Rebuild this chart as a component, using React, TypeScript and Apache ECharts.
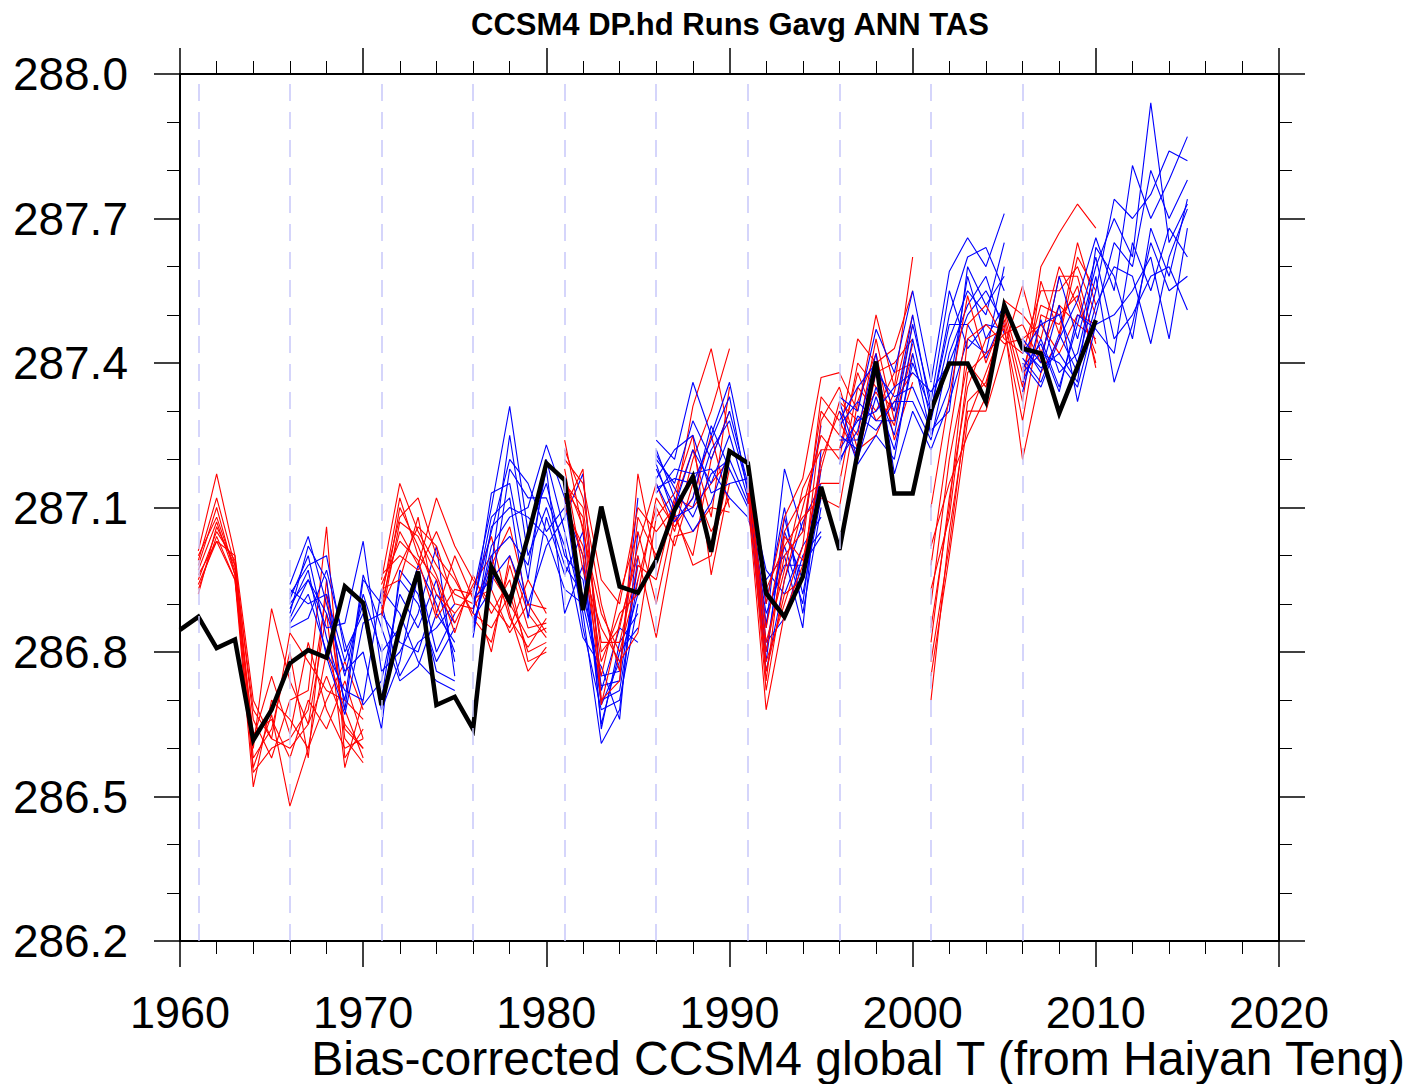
import React, { useEffect, useRef } from "react";
import * as echarts from "echarts";

const xTickLabels = ["1960", "1970", "1980", "1990", "2000", "2010", "2020"];
const yTickLabels = ["286.2", "286.5", "286.8", "287.1", "287.4", "287.7", "288.0"];
const obsStartYear = 1960;
const observed = [
  286.846, 286.873, 286.808, 286.826, 286.617, 286.68, 286.777, 286.804, 286.788, 286.936,
  286.902, 286.69, 286.85, 286.967, 286.69, 286.707, 286.64, 286.977, 286.904, 287.04,
  287.192, 287.157, 286.887, 287.102, 286.936, 286.923, 286.99, 287.095, 287.164, 287.008,
  287.217, 287.192, 286.922, 286.873, 286.956, 287.143, 287.012, 287.215, 287.403, 287.129,
  287.129, 287.302, 287.399, 287.399, 287.32, 287.52, 287.43, 287.42, 287.296, 287.392, 287.489,
];
const startYears = [1961, 1966, 1971, 1976, 1981, 1986, 1991, 1996, 2001, 2006];
const ensembleColors = ["#ff0000", "#0000ff", "#ff0000", "#0000ff", "#ff0000", "#0000ff", "#ff0000", "#0000ff", "#ff0000", "#0000ff"];

const ens1961 = [
  [287.01, 287.17, 287.0, 286.7, 286.62, 286.6, 286.65, 286.75, 286.65, 286.6],
  [286.99, 287.12, 286.98, 286.62, 286.75, 286.63, 286.82, 286.68, 286.6, 286.62],
  [286.97, 287.07, 286.96, 286.56, 286.67, 286.48, 286.6, 286.7, 286.78, 286.68],
  [286.95, 287.05, 286.99, 286.66, 286.58, 286.7, 286.72, 287.06, 286.58, 286.64],
  [286.93, 287.04, 286.95, 286.52, 286.7, 286.66, 286.6, 286.8, 286.68, 286.58],
  [287.0, 287.08, 286.97, 286.6, 286.89, 286.74, 286.65, 286.88, 286.56, 286.7],
  [286.96, 287.03, 287.0, 286.58, 286.64, 286.8, 286.58, 286.95, 286.62, 286.57],
  [286.92, 287.06, 286.98, 286.68, 286.62, 286.84, 286.78, 286.72, 286.7, 286.66],
  [286.98, 287.1, 286.96, 286.55, 286.6, 286.62, 286.68, 286.92, 286.64, 286.6],
  [286.94, 287.03, 286.95, 286.63, 286.66, 286.58, 286.7, 286.64, 286.74, 286.62],
];
const ens1966 = [
  [286.94, 287.04, 286.9, 286.75, 286.92, 286.8, 286.85, 286.98, 286.9, 286.8],
  [286.92, 286.98, 287.0, 286.8, 286.88, 286.7, 286.95, 286.9, 286.78, 286.85],
  [286.9, 286.95, 286.85, 286.86, 287.03, 286.76, 286.8, 286.88, 287.02, 286.75],
  [286.88, 287.02, 286.95, 286.68, 286.95, 286.9, 286.75, 286.82, 286.85, 286.9],
  [286.86, 286.92, 286.8, 286.72, 286.7, 286.93, 286.88, 286.78, 286.74, 286.72],
  [286.93, 286.9, 286.92, 286.78, 286.9, 286.68, 286.78, 286.96, 286.8, 286.88],
  [286.85, 286.87, 286.97, 286.82, 286.69, 286.74, 286.92, 286.85, 286.95, 286.78],
  [286.91, 287.0, 286.83, 286.7, 286.96, 286.85, 286.74, 286.77, 286.88, 286.82],
  [286.87, 286.95, 286.88, 286.76, 286.8, 286.64, 286.97, 286.92, 286.76, 286.74],
  [286.89, 286.97, 286.79, 286.67, 286.86, 286.88, 286.82, 286.8, 286.92, 286.86],
];
const ens1971 = [
  [286.95, 287.15, 287.05, 286.98, 286.92, 286.9, 286.98, 287.06, 286.9, 286.84],
  [286.92, 287.08, 287.12, 287.0, 286.95, 286.88, 286.85, 286.92, 286.8, 286.82],
  [286.9, 287.05, 286.98, 287.12, 287.02, 286.95, 286.9, 286.85, 286.95, 286.88],
  [286.88, 287.1, 287.02, 286.92, 286.88, 286.93, 287.04, 286.88, 286.76, 286.81],
  [286.96, 287.0, 286.97, 287.05, 286.96, 286.87, 286.82, 286.98, 286.85, 286.86],
  [286.93, 286.95, 287.08, 286.88, 287.0, 286.91, 286.93, 286.84, 286.9, 286.89],
  [286.91, 287.12, 287.0, 286.95, 286.84, 286.96, 286.88, 286.95, 286.78, 286.8],
  [286.89, 286.98, 287.06, 287.02, 286.9, 286.89, 286.96, 286.9, 286.83, 286.85],
  [286.94, 287.03, 286.99, 286.87, 286.93, 286.92, 286.8, 287.0, 286.88, 286.83],
  [286.87, 287.07, 287.04, 286.96, 286.86, 286.94, 287.0, 286.87, 286.81, 286.87],
];
const ens1976 = [
  [286.92, 287.1, 287.31, 287.05, 287.15, 287.0, 286.95, 286.7, 286.72, 286.95],
  [286.9, 287.05, 287.2, 287.15, 287.05, 287.1, 287.0, 286.65, 286.8, 286.85],
  [286.88, 287.13, 287.15, 286.95, 287.2, 287.05, 286.88, 286.61, 286.68, 287.0],
  [286.86, 286.98, 287.25, 287.0, 287.1, 286.98, 286.92, 286.75, 286.76, 287.12],
  [286.84, 287.02, 287.08, 287.1, 287.23, 287.12, 286.85, 286.68, 286.7, 286.9],
  [286.91, 286.95, 287.0, 286.9, 287.02, 287.08, 287.17, 286.72, 286.85, 286.82],
  [286.89, 287.08, 287.12, 286.87, 287.08, 286.96, 287.05, 286.64, 286.82, 286.88],
  [286.87, 286.93, 287.18, 287.12, 287.12, 287.02, 286.83, 286.77, 286.66, 287.05],
  [286.85, 287.0, 287.04, 286.98, 287.18, 286.88, 286.98, 286.69, 286.78, 286.92],
  [286.83, 287.06, 287.1, 287.08, 287.04, 286.93, 286.9, 286.73, 286.74, 286.98],
];
const ens1981 = [
  [287.2, 287.15, 286.95, 286.9, 287.1, 287.05, 287.1, 287.31, 287.43, 287.25],
  [287.15, 287.1, 286.8, 286.85, 287.02, 287.15, 287.05, 287.2, 287.3, 287.43],
  [287.1, 287.18, 286.7, 286.74, 287.17, 286.98, 287.12, 287.1, 287.15, 287.2],
  [287.24, 287.05, 286.88, 286.8, 286.95, 287.1, 287.02, 287.15, 287.05, 287.12],
  [287.12, 287.0, 286.75, 286.92, 287.05, 286.9, 287.08, 287.0, 287.2, 287.3],
  [287.18, 286.97, 286.85, 286.78, 286.84, 287.08, 287.13, 287.25, 286.96, 287.15],
  [287.14, 287.08, 286.69, 286.86, 287.0, 286.83, 287.04, 287.05, 287.1, 287.09],
  [287.22, 287.12, 286.9, 286.76, 287.08, 287.0, 287.09, 286.98, 287.0, 287.18],
  [287.1, 287.02, 286.78, 286.88, 286.92, 287.12, 287.06, 287.12, 287.25, 287.1],
  [287.16, 287.06, 286.82, 286.82, 286.98, 286.95, 287.11, 287.22, 287.08, 287.35],
];
const ens1986 = [
  [287.24, 287.2, 287.36, 287.25, 287.36, 287.18, 286.85, 287.18, 287.05, 287.27],
  [287.2, 287.15, 287.28, 287.2, 287.3, 287.15, 286.8, 287.05, 286.95, 287.2],
  [287.18, 287.1, 287.22, 287.15, 287.25, 287.12, 286.76, 286.95, 287.07, 287.15],
  [287.15, 287.07, 287.12, 287.27, 287.18, 287.1, 286.9, 287.1, 286.88, 287.1],
  [287.22, 287.12, 287.05, 287.11, 287.22, 287.19, 286.82, 286.87, 287.0, 287.05],
  [287.13, 287.18, 287.17, 287.18, 287.12, 287.08, 286.95, 287.0, 286.85, 287.22],
  [287.19, 287.08, 287.1, 287.22, 287.28, 287.14, 286.97, 286.92, 287.02, 287.08],
  [287.16, 287.22, 287.25, 287.13, 287.15, 287.16, 286.78, 287.08, 286.92, 287.12],
  [287.21, 287.14, 287.08, 287.17, 287.2, 287.11, 286.88, 286.98, 286.98, 287.04],
  [287.14, 287.16, 287.15, 287.24, 287.33, 287.13, 286.86, 287.02, 286.9, 287.18],
];
const ens1991 = [
  [287.2, 286.9, 287.08, 287.16, 287.37, 287.38, 287.3, 287.5, 287.35, 287.62],
  [287.18, 286.8, 287.0, 287.05, 287.3, 287.25, 287.45, 287.4, 287.43, 287.55],
  [287.15, 286.72, 286.95, 287.1, 287.25, 287.2, 287.4, 287.35, 287.3, 287.48],
  [287.12, 286.68, 286.88, 286.98, 287.2, 287.3, 287.25, 287.45, 287.28, 287.42],
  [287.17, 286.85, 287.05, 287.12, 287.15, 287.15, 287.35, 287.3, 287.38, 287.4],
  [287.14, 286.76, 286.92, 286.95, 287.28, 287.35, 287.22, 287.25, 287.34, 287.5],
  [287.19, 286.93, 287.02, 287.08, 287.12, 287.1, 287.32, 287.42, 287.24, 287.36],
  [287.13, 286.78, 286.9, 287.02, 287.33, 287.28, 287.2, 287.38, 287.4, 287.45],
  [287.16, 286.82, 286.97, 287.14, 287.22, 287.22, 287.38, 287.28, 287.32, 287.38],
  [287.21, 286.74, 287.04, 286.99, 287.18, 287.32, 287.28, 287.34, 287.27, 287.44],
];
const ens1996 = [
  [287.33, 287.3, 287.47, 287.38, 287.55, 287.36, 287.59, 287.66, 287.6, 287.71],
  [287.28, 287.35, 287.4, 287.3, 287.5, 287.3, 287.5, 287.62, 287.64, 287.55],
  [287.25, 287.22, 287.35, 287.25, 287.45, 287.28, 287.45, 287.55, 287.5, 287.65],
  [287.22, 287.28, 287.3, 287.35, 287.38, 287.34, 287.4, 287.5, 287.55, 287.48],
  [287.3, 287.19, 287.25, 287.2, 287.42, 287.25, 287.35, 287.58, 287.45, 287.52],
  [287.2, 287.26, 287.42, 287.17, 287.3, 287.22, 287.32, 287.45, 287.42, 287.6],
  [287.27, 287.32, 287.28, 287.28, 287.48, 287.32, 287.55, 287.43, 287.48, 287.47],
  [287.24, 287.24, 287.38, 287.33, 287.35, 287.26, 287.3, 287.6, 287.52, 287.58],
  [287.32, 287.2, 287.33, 287.22, 287.4, 287.3, 287.48, 287.48, 287.41, 287.5],
  [287.19, 287.29, 287.26, 287.32, 287.32, 287.24, 287.42, 287.52, 287.58, 287.46],
];
const ens2001 = [
  [287.1, 287.33, 287.54, 287.4, 287.5, 287.35, 287.6, 287.67, 287.73, 287.68],
  [286.98, 287.25, 287.48, 287.52, 287.45, 287.42, 287.55, 287.55, 287.6, 287.5],
  [286.9, 287.2, 287.4, 287.35, 287.53, 287.5, 287.45, 287.6, 287.52, 287.42],
  [286.82, 287.12, 287.35, 287.45, 287.47, 287.28, 287.5, 287.48, 287.56, 287.39],
  [286.7, 287.05, 287.3, 287.3, 287.43, 287.56, 287.42, 287.52, 287.48, 287.45],
  [286.75, 287.0, 287.28, 287.38, 287.48, 287.2, 287.38, 287.45, 287.62, 287.55],
  [286.85, 287.1, 287.45, 287.48, 287.44, 287.45, 287.48, 287.42, 287.5, 287.48],
  [287.02, 287.15, 287.25, 287.33, 287.51, 287.38, 287.52, 287.5, 287.54, 287.4],
  [286.93, 287.08, 287.38, 287.42, 287.46, 287.48, 287.4, 287.58, 287.58, 287.44],
  [286.78, 287.02, 287.32, 287.36, 287.49, 287.32, 287.57, 287.46, 287.65, 287.52],
];
const ens2006 = [
  [287.45, 287.4, 287.58, 287.45, 287.6, 287.7, 287.62, 287.94, 287.65, 287.73],
  [287.42, 287.48, 287.5, 287.4, 287.55, 287.74, 287.7, 287.75, 287.84, 287.82],
  [287.4, 287.35, 287.45, 287.53, 287.66, 287.55, 287.81, 287.7, 287.78, 287.87],
  [287.38, 287.42, 287.4, 287.35, 287.5, 287.65, 287.6, 287.8, 287.7, 287.78],
  [287.36, 287.45, 287.35, 287.48, 287.62, 287.45, 287.5, 287.58, 287.6, 287.51],
  [287.44, 287.38, 287.52, 287.32, 287.48, 287.5, 287.55, 287.62, 287.45, 287.68],
  [287.34, 287.49, 287.38, 287.42, 287.58, 287.36, 287.48, 287.65, 287.55, 287.58],
  [287.41, 287.36, 287.46, 287.38, 287.52, 287.6, 287.58, 287.44, 287.62, 287.72],
  [287.39, 287.44, 287.34, 287.5, 287.47, 287.42, 287.65, 287.55, 287.68, 287.62],
  [287.43, 287.39, 287.42, 287.36, 287.64, 287.58, 287.45, 287.68, 287.58, 287.74],
];
const ensembles = [ens1961, ens1966, ens1971, ens1976, ens1981, ens1986, ens1991, ens1996, ens2001, ens2006];

const titleText = "CCSM4 DP.hd Runs Gavg ANN TAS";
const captionText = "Bias-corrected CCSM4 global T (from Haiyan Teng)";
const FONT = "'Liberation Sans', Arial, Helvetica, sans-serif";

export default function App() {
  const ref = useRef<HTMLDivElement>(null);
  useEffect(() => {
    if (!ref.current) return;
    const chart = echarts.init(ref.current, null, { renderer: "svg" });
    const series: any[] = [];
    series.push({
      type: "line",
      data: [],
      silent: true,
      z: 1,
      markLine: {
        silent: true,
        symbol: ["none", "none"],
        label: { show: false },
        animation: false,
        lineStyle: { color: "#c8c8fa", type: [17, 11], width: 1.5 },
        data: startYears.map((y) => ({ xAxis: y })),
      },
    });
    ensembles.forEach((ens, i) => {
      ens.forEach((member) => {
        series.push({
          type: "line",
          data: member.map((v, k) => [startYears[i] + k, v]),
          showSymbol: false,
          symbol: "none",
          silent: true,
          z: 2,
          lineStyle: { color: ensembleColors[i], width: 1.1 },
        });
      });
    });
    series.push({
      type: "line",
      data: observed.map((v, k) => [obsStartYear + k, v]),
      showSymbol: false,
      symbol: "none",
      silent: true,
      z: 3,
      lineStyle: { color: "#000000", width: 4.5, join: "miter" },
    });

    const axisLine = { show: true, onZero: false, lineStyle: { color: "#000", width: 2 } };
    const xCommon = {
      type: "value",
      min: 1960,
      max: 2020,
      interval: 10,
      splitLine: { show: false },
      axisLine,
      axisTick: { show: true, length: 26, lineStyle: { color: "#000", width: 1.5 } },
      minorTick: { show: true, splitNumber: 5, length: 13, lineStyle: { color: "#000", width: 1 } },
    };
    const yCommon = {
      type: "value",
      min: 286.2,
      max: 288.0,
      interval: 0.3,
      splitLine: { show: false },
      axisLine,
      axisTick: { show: true, length: 26, lineStyle: { color: "#000", width: 1.5 } },
      minorTick: { show: true, splitNumber: 3, length: 13, lineStyle: { color: "#000", width: 1 } },
    };

    chart.setOption({
      animation: false,
      backgroundColor: "#ffffff",
      grid: { left: 180, right: 140, top: 74, bottom: 143, containLabel: false },
      xAxis: [
        {
          ...xCommon,
          position: "bottom",
          axisLabel: {
            show: true,
            margin: 54,
            fontSize: 45,
            lineHeight: 34,
            color: "#000",
            fontFamily: FONT,
            formatter: (v: number) => xTickLabels[Math.round((v - 1960) / 10)] ?? String(v),
          },
        },
        { ...xCommon, position: "top", axisLabel: { show: false } },
      ],
      yAxis: [
        {
          ...yCommon,
          position: "left",
          axisLabel: {
            show: true,
            margin: 52,
            fontSize: 46,
            color: "#000",
            fontFamily: FONT,
            formatter: (v: number) => yTickLabels[Math.round((v - 286.2) / 0.3)] ?? v.toFixed(1),
          },
        },
        { ...yCommon, position: "right", axisLabel: { show: false } },
      ],
      graphic: [
        {
          type: "text",
          x: 730,
          y: 24,
          style: {
            text: titleText,
            fontSize: 31,
            fontWeight: "bold",
            fontFamily: FONT,
            fill: "#000",
            align: "center",
            verticalAlign: "middle",
          },
        },
        {
          type: "text",
          x: 1405,
          y: 1058,
          style: {
            text: captionText,
            fontSize: 48,
            lineHeight: 34,
            fontFamily: FONT,
            fill: "#000",
            align: "right",
            verticalAlign: "middle",
          },
        },
      ],
      series,
    });
    return () => chart.dispose();
  }, []);
  return (
    <div
      ref={ref}
      style={{ position: "absolute", left: 0, top: 0, width: 1419, height: 1084 }}
    />
  );
}
